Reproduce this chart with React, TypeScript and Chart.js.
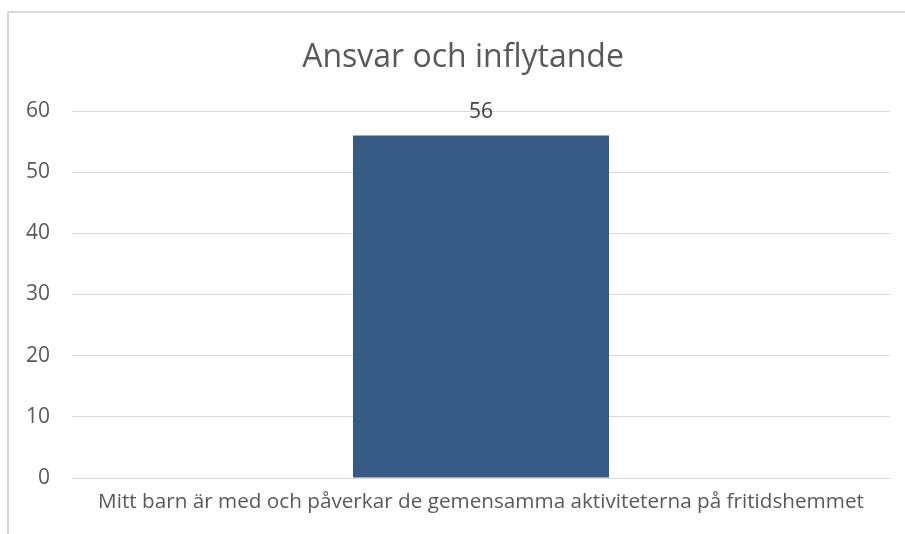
import React, { useEffect, useRef } from "react";
import { Chart, registerables } from "chart.js";

Chart.register(...registerables);

const categories = ["Mitt barn är med och påverkar de gemensamma aktiviteterna på fritidshemmet"];
const values = [56];
const yTicks = [0, 10, 20, 30, 40, 50, 60];
const title = "Ansvar och inflytande";

const FONT = "'Open Sans', 'Noto Sans', sans-serif";
const TEXT = "#595959";

const labelPlugin = {
  id: "valueLabels",
  afterDatasetsDraw(chart: any) {
    const ctx = chart.ctx;
    const meta = chart.getDatasetMeta(0);
    ctx.save();
    ctx.fillStyle = "#404040";
    ctx.font = `21px ${FONT}`;
    ctx.textAlign = "center";
    ctx.textBaseline = "middle";
    meta.data.forEach((bar: any, i: number) => {
      ctx.fillText(String(values[i]), bar.x, bar.y - 23);
    });
    ctx.restore();
  },
};

const titlePlugin = {
  id: "customTitle",
  afterDraw(chart: any) {
    const ctx = chart.ctx;
    ctx.save();
    ctx.fillStyle = TEXT;
    ctx.font = `32px ${FONT}`;
    ctx.textAlign = "center";
    ctx.textBaseline = "middle";
    ctx.fillText(title, 463, 58);
    ctx.restore();
  },
};

export default function App() {
  const ref = useRef<HTMLCanvasElement>(null);
  useEffect(() => {
    document.body.style.margin = "0";
    const chart = new Chart(ref.current!, {
      type: "bar",
      data: {
        labels: categories,
        datasets: [
          {
            data: values,
            backgroundColor: "#375a84",
            barPercentage: 0.313,
            categoryPercentage: 1,
          },
        ],
      },
      options: {
        animation: false,
        responsive: false,
        maintainAspectRatio: false,
        layout: { padding: { top: 111, right: 15, left: 0, bottom: 0 } },
        plugins: { legend: { display: false }, tooltip: { enabled: false }, title: { display: false } },
        scales: {
          x: {
            grid: { display: false, drawTicks: false },
            border: { display: false },
            ticks: { color: TEXT, font: { family: FONT, size: 20.7 }, padding: 12, maxRotation: 0, autoSkip: false },
            afterFit: (s: any) => { s.height = 56; },
          },
          y: {
            min: 0,
            max: 60,
            afterBuildTicks: (s: any) => { s.ticks = yTicks.map((v) => ({ value: v })); },
            grid: { color: "#d9d9d9", lineWidth: 1, drawTicks: false },
            border: { display: false },
            ticks: { color: TEXT, font: { family: FONT, size: 21 }, padding: 22 },
            afterFit: (s: any) => { s.width = 72; },
          },
        },
      },
      plugins: [labelPlugin, titlePlugin],
    });
    return () => chart.destroy();
  }, []);
  return (
    <div style={{ position: "fixed", left: 0, top: 0, width: 905, height: 534, background: "#fff", overflow: "hidden" }}>
      <div style={{ position: "absolute", left: 7, top: 11, width: 1000, height: 1000, border: "2px solid #d9d9d9", boxSizing: "border-box" }} />
      <canvas ref={ref} width={905} height={534} style={{ position: "absolute", left: 0, top: 0 }} />
    </div>
  );
}
